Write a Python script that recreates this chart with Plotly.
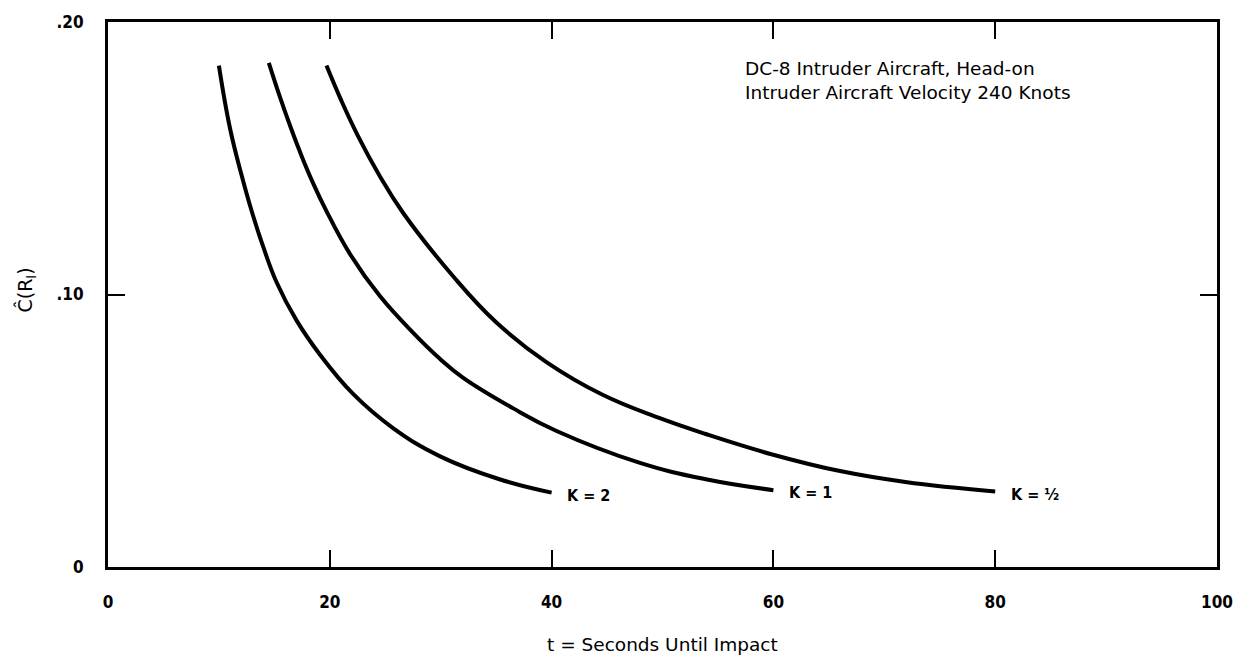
import plotly.graph_objects as go

# Data
k2_t = [10, 11, 12, 13, 14, 15.2, 17, 19.1, 22.1, 25.7, 29.9, 35.3, 40]
k2_c = [0.184, 0.161, 0.1445, 0.130, 0.1175, 0.1045, 0.0905, 0.078, 0.0635, 0.051, 0.0407, 0.0322, 0.0273]

k1_t = [14.5, 15.5, 16.5, 17.5, 18.5, 19.7, 21.8, 24.5, 27.5, 29.9, 32, 36.5, 40.4, 47.9, 53.9, 60]
k1_c = [0.185, 0.1725, 0.161, 0.1504, 0.1408, 0.1306, 0.115, 0.0995, 0.086, 0.0765, 0.0695, 0.0583, 0.050, 0.0383, 0.0322, 0.0282]

kh_t = [19.7, 21, 22.5, 24.5, 26.6, 31.1, 35, 39.5, 44.6, 49.7, 53.9, 59.9, 65.9, 71.9, 80]
kh_c = [0.184, 0.1715, 0.1585, 0.1435, 0.130, 0.1068, 0.0898, 0.0753, 0.0632, 0.0547, 0.0488, 0.0413, 0.0353, 0.0312, 0.0277]

series = [("K = 2", k2_t, k2_c), ("K = 1", k1_t, k1_c), ("K = ½", kh_t, kh_c)]

x_ticks = [0, 20, 40, 60, 80, 100]
y_ticks = [0, 0.10, 0.20]
y_tick_text = ["0", ".10", ".20"]

BOLD_FONT = "DejaVu Sans Condensed, Liberation Sans Narrow, Arial, sans-serif"
TEXT_FONT = "DejaVu Sans, Arial, sans-serif"

fig = go.Figure()
annotations = []
for name, t, c in series:
    fig.add_trace(go.Scatter(x=t, y=c, mode="lines", name=name,
                             line=dict(color="black", width=4, shape="spline", smoothing=1.2),
                             showlegend=False, hoverinfo="skip"))
    annotations.append(dict(x=t[-1] + 1.2, y=c[-1] - 0.001, xref="x", yref="y",
                            text=name, showarrow=False, xanchor="left", yanchor="middle",
                            font=dict(family=BOLD_FONT, size=16, color="black", weight="bold")))

annotations.append(dict(x=57.3, y=0.1787, xref="x", yref="y",
                        text="DC-8 Intruder Aircraft, Head-on<br>Intruder Aircraft Velocity 240 Knots",
                        showarrow=False, xanchor="left", yanchor="middle", align="left",
                        font=dict(family=TEXT_FONT, size=18.5, color="black")))
annotations.append(dict(x=0.5, y=-0.142, xref="paper", yref="paper",
                        text="t = Seconds Until Impact", showarrow=False,
                        xanchor="center", yanchor="middle",
                        font=dict(family=TEXT_FONT, size=18.5, color="black")))
annotations.append(dict(x=-0.074, y=0.509, xref="paper", yref="paper",
                        text="Ĉ(R<sub>I</sub>)", showarrow=False, textangle=-90,
                        xanchor="center", yanchor="middle",
                        font=dict(family=TEXT_FONT, size=19, color="black")))

fig.update_layout(
    width=1245, height=658,
    margin=dict(l=108, r=26, t=17, b=91),
    paper_bgcolor="white", plot_bgcolor="white",
    annotations=annotations,
)
fig.update_xaxes(range=[0, 100], tickvals=x_ticks, ticktext=[str(v) for v in x_ticks],
                 showline=True, linewidth=3, linecolor="black", mirror="ticks",
                 ticks="inside", ticklen=17, tickwidth=2, tickcolor="black",
                 showgrid=False, zeroline=False, ticklabelstandoff=18,
                 tickfont=dict(family=BOLD_FONT, size=17, color="black", weight="bold"))
fig.update_yaxes(range=[0, 0.20], tickvals=y_ticks, ticktext=y_tick_text,
                 showline=True, linewidth=3, linecolor="black", mirror="ticks",
                 ticks="inside", ticklen=17, tickwidth=2, tickcolor="black",
                 showgrid=False, zeroline=False, ticklabelstandoff=18,
                 tickfont=dict(family=BOLD_FONT, size=17, color="black", weight="bold"))

fig.write_html("out.html")
